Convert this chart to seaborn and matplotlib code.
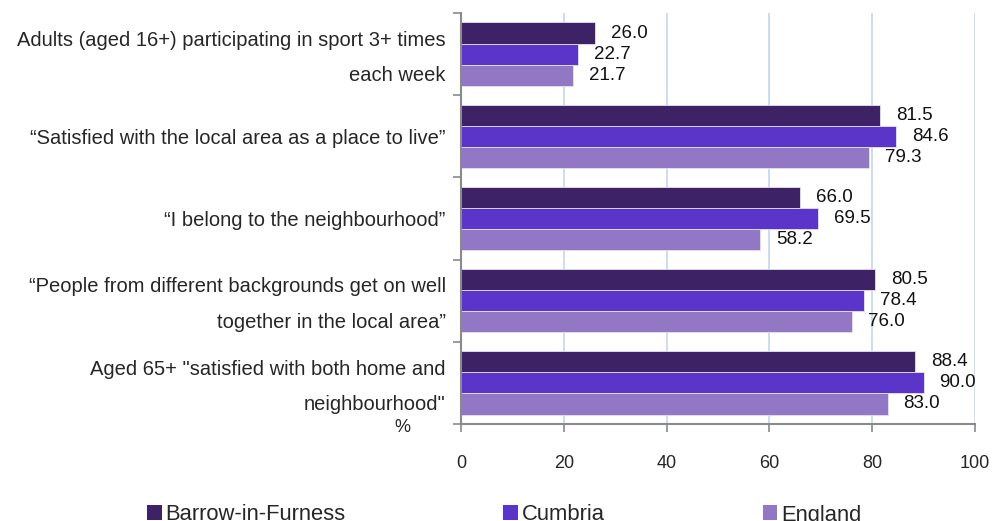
import matplotlib
matplotlib.use('Agg')
import matplotlib.pyplot as plt
from matplotlib.patches import Patch
from matplotlib.transforms import ScaledTranslation
import seaborn as sns
import pandas as pd

# data
measures = ['Adults (aged 16+) participating in sport 3+ times\neach week',
            '\u201cSatisfied with the local area as a place to live\u201d',
            '\u201cI belong to the neighbourhood\u201d',
            '\u201cPeople from different backgrounds get on well\ntogether in the local area\u201d',
            'Aged 65+ "satisfied with both home and\nneighbourhood"']
areas = ['Barrow-in-Furness', 'Cumbria', 'England']
barrow = [26.0, 81.5, 66.0, 80.5, 88.4]
cumbria = [22.7, 84.6, 69.5, 78.4, 90.0]
england = [21.7, 79.3, 58.2, 76.0, 83.0]
colours = ['#3D2266', '#5B35C9', '#9277C4']

rows = []
for area, vals in zip(areas, [barrow, cumbria, england]):
    for m, v in zip(measures, vals):
        rows.append({'measure': m, 'area': area, 'value': v})
df = pd.DataFrame(rows)

sns.set_style('white')
plt.rcParams['font.family'] = ['Liberation Sans', 'DejaVu Sans']

fig = plt.figure(figsize=(9.95, 5.21), dpi=100)
ax = fig.add_axes([461 / 995, 1 - 424 / 521, 514 / 995, 411 / 521])

sns.barplot(data=df, y='measure', x='value', hue='area', hue_order=areas,
            order=measures, orient='h', palette=colours, saturation=1, width=0.77,
            edgecolor='#E6E0F4', linewidth=0.6, legend=False, ax=ax)

for cont in ax.containers:
    ax.bar_label(cont, fmt='%.1f', padding=11.5, fontsize=13.5, color='#111111')

ax.set_xlim(0, 100)
ax.set_ylim(4.5, -0.5)
ax.set_xticks(range(0, 101, 20))
ax.set_xlabel('')
ax.set_ylabel('')
ax.grid(axis='x', color='#C6D6EA', linewidth=1.2)
ax.grid(axis='y', visible=False)
ax.set_axisbelow(True)

for side in ['top', 'right']:
    ax.spines[side].set_visible(False)
for side in ['left', 'bottom']:
    ax.spines[side].set_color('#8A8A8A')
    ax.spines[side].set_linewidth(1.5)

ax.tick_params(axis='x', length=6, width=1.2, color='#8A8A8A', pad=16,
               labelsize=13, direction='out', bottom=True)
ax.tick_params(axis='y', length=0, pad=11, labelsize=14.5)
ax.set_yticks([i + 0.5 for i in range(-1, 5)], minor=True)
ax.tick_params(axis='y', which='minor', length=6, width=1.2, color='#8A8A8A', left=True)
# multi-line labels sit a little below the group centre in the original
nudge = ScaledTranslation(0, -4 / 100, fig.dpi_scale_trans)
for lbl in ax.get_yticklabels():
    lbl.set_linespacing(2.1)
    lbl.set_horizontalalignment('right')
    if '\n' in lbl.get_text():
        lbl.set_verticalalignment('center')
        lbl.set_transform(lbl.get_transform() + nudge)

fig.text(402 / 995, 1 - 428 / 521, '%', fontsize=13, ha='center', va='center')

handles = [Patch(facecolor=c, edgecolor='none') for c in colours]
fig.legend(handles, areas, loc='center left', bbox_to_anchor=(147 / 995, 1 - 515 / 521),
           ncol=3, frameon=False, fontsize=15.8, handlelength=0.68, handleheight=0.68,
           handletextpad=0.15, columnspacing=7.2, borderaxespad=0, borderpad=0)

fig.savefig('out.png', dpi=100)
